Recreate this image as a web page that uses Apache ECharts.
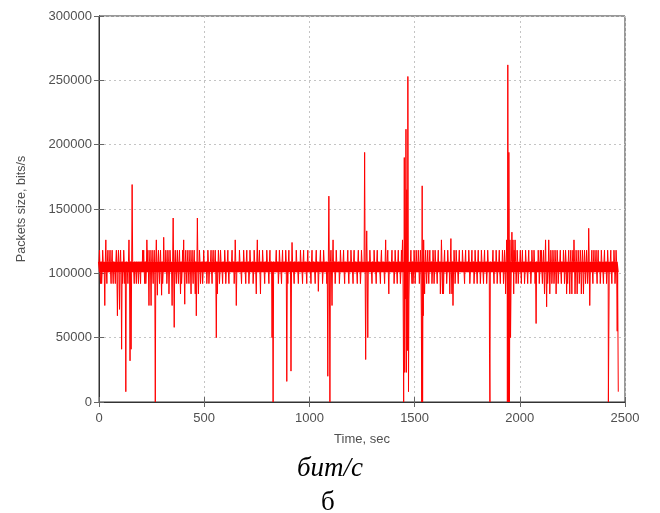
<!DOCTYPE html>
<html>
<head>
<meta charset="utf-8">
<script src="https://cdn.jsdelivr.net/npm/echarts@6/dist/echarts.min.js"></script>
<style>
html,body{margin:0;padding:0;background:#fff;}
#chart{width:660px;height:513px;}
</style>
</head>
<body>
<div id="chart"></div>
<script>
// Sampling step of the dense band, seconds
const timeStep = 5;
// Dense band values (thousands of bits/s), one value per 5 s, rows of 100 s
const band00 = [109,101,109,101,109,101,109,101,109,101,109,101,109,101,109,101,109,101,109,101];
const band01 = [109,101,109,101,109,101,109,101,109,101,109,101,109,101,109,101,109,101,109,101];
const band02 = [109,101,109,101,109,101,109,101,109,101,109,101,109,101,109,101,109,101,109,101];
const band03 = [109,101,109,101,109,101,109,101,109,101,109,101,109,101,109,101,109,101,109,101];
const band04 = [109,101,109,101,109,101,109,101,109,101,109,101,109,101,109,101,109,101,109,101];
const band05 = [109,101,109,101,109,101,109,101,109,101,109,101,109,101,109,101,109,101,109,101];
const band06 = [109,101,109,101,109,101,109,101,109,101,109,101,109,101,109,101,109,101,109,101];
const band07 = [109,101,109,101,109,101,109,101,109,101,109,101,109,101,109,101,109,101,109,101];
const band08 = [109,101,109,101,109,101,109,101,109,101,109,101,109,101,109,101,109,101,109,101];
const band09 = [109,101,109,101,109,101,109,101,109,101,109,101,109,101,109,101,109,101,109,101];
const band10 = [109,101,109,101,109,101,109,101,109,101,109,101,109,101,109,101,109,101,109,101];
const band11 = [109,101,109,101,109,101,109,101,109,101,109,101,109,101,109,101,109,101,109,101];
const band12 = [109,101,109,101,109,101,109,101,109,101,109,101,109,101,109,101,109,101,109,101];
const band13 = [109,101,109,101,109,101,109,101,109,101,109,101,109,101,109,101,109,101,109,101];
const band14 = [109,101,109,101,109,101,109,101,109,101,109,101,109,101,109,101,109,101,109,101];
const band15 = [109,101,109,101,109,101,109,101,109,101,109,101,109,101,109,101,109,101,109,101];
const band16 = [109,101,109,101,109,101,109,101,109,101,109,101,109,101,109,101,109,101,109,101];
const band17 = [109,101,109,101,109,101,109,101,109,101,109,101,109,101,109,101,109,101,109,101];
const band18 = [109,101,109,101,109,101,109,101,109,101,109,101,109,101,109,101,109,101,109,101];
const band19 = [109,101,109,101,109,101,109,101,109,101,109,101,109,101,109,101,109,101,109,101];
const band20 = [109,101,109,101,109,101,109,101,109,101,109,101,109,101,109,101,109,101,109,101];
const band21 = [109,101,109,101,109,101,109,101,109,101,109,101,109,101,109,101,109,101,109,101];
const band22 = [109,101,109,101,109,101,109,101,109,101,109,101,109,101,109,101,109,101,109,101];
const band23 = [109,101,109,101,109,101,109,101,109,101,109,101,109,101,109,101,109,101,109,101];
const band24 = [109,101,109,101,109,101,109,101,109,101,109,101,109,101];

// Single-second excursions [time s, thousands of bits/s]
const spikesA = [[2.5,118],[7.5,92],[12.5,92],[17.5,118],[27.5,75],[32.5,126],[37.5,92],[42.5,118],[52.5,118],[57.5,92],
  [62.5,118],[67.5,92],[77.5,92],[82.5,118],[87.5,67],[92.5,118],[97.5,72],[102.5,118],[107.5,41],[112.5,92],
  [117.5,118],[122.5,92],[127.5,8],[137.5,92],[142.5,126],[147.5,32],[152.5,41],[157.5,169],[167.5,92],[177.5,92],
  [187.5,92],[197.5,92],[207.5,118],[212.5,118],[217.5,92],[222.5,92],[227.5,126],[232.5,118],[237.5,75],[242.5,118],
  [247.5,75],[252.5,118],[257.5,92],[262.5,118],[267.5,0],[272.5,126],[277.5,83],[282.5,118],[287.5,92],[292.5,118],
  [297.5,83],[302.5,92],[307.5,128],[317.5,118],[322.5,92],[327.5,118],[332.5,84],[337.5,118],[347.5,75],[352.5,143],
  [357.5,58],[362.5,118],[367.5,92],[372.5,118],[377.5,92],[382.5,118],[387.5,84],[392.5,92],[397.5,118],[402.5,126],
  [407.5,76],[412.5,118],[417.5,92],[422.5,118],[427.5,92],[432.5,118],[437.5,84],[442.5,118],[447.5,92],[452.5,118],
  [457.5,84],[462.5,67],[467.5,143],[472.5,84],[477.5,118],[482.5,92],[492.5,92],[497.5,118],[512.5,92],[517.5,118],
  [522.5,92],[532.5,118],[537.5,92],[542.5,118],[552.5,118],[557.5,50],[562.5,84],[567.5,118],[572.5,92],[577.5,118],
  [587.5,92],[597.5,118],[602.5,92],[612.5,118],[617.5,92]];
const spikesB = [[632.5,118],[642.5,92],[647.5,126],[652.5,75],[667.5,118],[677.5,92],[687.5,118],[697.5,92],[702.5,118],
  [712.5,92],[717.5,118],[732.5,92],[737.5,118],[747.5,84],[752.5,126],[762.5,118],[767.5,84],[777.5,118],[787.5,92],
  [797.5,118],[807.5,92],[812.5,118],[822.5,50],[827.5,0],[842.5,118],[852.5,92],[857.5,118],[867.5,92],[872.5,118],
  [887.5,118],[892.5,16],[897.5,92],[902.5,118],[912.5,24],[917.5,124],[927.5,92],[937.5,118],[947.5,92],[957.5,118],
  [967.5,92],[972.5,118],[987.5,92],[992.5,118],[1007.5,92],[1012.5,118],[1027.5,92],[1032.5,118],[1042.5,86],[1052.5,118],
  [1062.5,92],[1067.5,118],[1082.5,92],[1087.5,20],[1092.5,160],[1097.5,0],[1102.5,118],[1107.5,75],[1112.5,126],[1122.5,92],
  [1127.5,118],[1142.5,92],[1147.5,118],[1162.5,118],[1167.5,92],[1182.5,118],[1187.5,92],[1197.5,118],[1207.5,92],[1212.5,118],
  [1227.5,92],[1232.5,118],[1242.5,92],[1247.5,118]];
const spikesC = [[1262.5,194],[1267.5,33],[1272.5,133],[1277.5,50],[1287.5,118],[1297.5,92],[1307.5,118],[1317.5,92],
  [1322.5,118],[1337.5,92],[1342.5,118],[1357.5,92],[1362.5,126],[1372.5,118],[1377.5,84],[1392.5,118],[1402.5,92],
  [1407.5,118],[1417.5,92],[1422.5,118],[1432.5,92],[1437.5,118],[1442.5,126],[1448,0],[1451,190],[1453,23],[1456,80],
  [1459,212],[1461,23],[1463,165],[1466,40],[1468,253],[1471,8],[1473,80],[1482.5,118],[1487.5,92],[1492.5,92],[1497.5,118]];
const spikesD = [[1502.5,92],[1507.5,118],[1517.5,118],[1522.5,92],[1527.5,118],[1532,67],[1534,0],[1536,168],[1538,0],
  [1541,67],[1543,126],[1547.5,84],[1552.5,118],[1557.5,92],[1562.5,118],[1567.5,92],[1572.5,118],[1582.5,92],[1587.5,118],
  [1592.5,92],[1597.5,118],[1607.5,92],[1612.5,118],[1622.5,84],[1627.5,126],[1632.5,84],[1637.5,84],[1642.5,118],[1652.5,92],
  [1657.5,118],[1667.5,84],[1672.5,127],[1677.5,84],[1682.5,75],[1687.5,118],[1692.5,92],[1697.5,118]];
const spikesE = [[1707.5,92],[1712.5,118],[1727.5,118],[1737.5,92],[1742.5,118],[1757.5,118],[1762.5,92],[1772.5,118],
  [1782.5,92],[1787.5,118],[1797.5,92],[1802.5,118],[1812.5,92],[1817.5,118],[1827.5,92],[1832.5,118],[1842.5,92],
  [1847.5,118],[1856,38],[1858,0],[1872.5,118],[1877.5,92],[1887.5,118],[1892.5,92]];
const spikesF = [[1902.5,118],[1907.5,92],[1917.5,118],[1922.5,92],[1927.5,118],[1932.5,84],[1937.5,126],[1941,0],[1943,262],
  [1946,0],[1948,194],[1951,0],[1953,126],[1956,50],[1958,84],[1962.5,132],[1967.5,126],[1971,84],[1973,118],[1977.5,126],
  [1982.5,92],[1987.5,118],[1992.5,92],[2002.5,118],[2007.5,92],[2012.5,118],[2022.5,92],[2027.5,118],[2037.5,92],[2042.5,118],
  [2052.5,92],[2057.5,118],[2067.5,118],[2072.5,92],[2077.5,61],[2087.5,118],[2092.5,92],[2097.5,118]];
const spikesG = [[2102.5,118],[2107.5,92],[2112.5,118],[2117.5,84],[2122.5,126],[2127.5,74],[2132.5,92],[2137.5,126],
  [2142.5,84],[2147.5,118],[2152.5,92],[2157.5,118],[2162.5,92],[2167.5,118],[2172.5,84],[2177.5,118],[2182.5,92],
  [2192.5,118],[2197.5,92],[2207.5,118],[2212.5,92],[2217.5,118],[2222.5,84],[2227.5,92],[2232.5,118],[2237.5,84],
  [2242.5,118],[2247.5,84],[2252.5,118],[2257.5,126],[2262.5,84],[2267.5,118],[2272.5,84],[2277.5,118],[2282.5,92],
  [2287.5,118],[2292.5,84],[2297.5,118],[2302.5,84],[2307.5,118],[2312.5,92],[2317.5,118],[2322.5,92],[2327.5,135],
  [2332.5,75],[2342.5,118],[2347.5,92],[2352.5,118],[2362.5,118],[2367.5,92],[2372.5,118],[2382.5,92],[2387.5,118],
  [2397.5,92],[2402.5,118],[2412.5,92],[2417.5,118],[2421,0],[2432.5,118],[2437.5,92],[2447.5,118],[2452.5,92],
  [2457.5,118],[2463,55],[2468,8]];

const xTicks = [0, 500, 1000, 1500, 2000, 2500];
const yTicks = [0, 50000, 100000, 150000, 200000, 250000, 300000];
const xName = 'Time, sec';
const yName = 'Packets size, bits/s';
const caption1 = 'бит/с';
const caption2 = 'б';

const bandVals = [].concat(band00,band01,band02,band03,band04,band05,band06,band07,band08,band09,band10,band11,
  band12,band13,band14,band15,band16,band17,band18,band19,band20,band21,band22,band23,band24);
const bandPts = bandVals.map((v, i) => [i * timeStep, v]);
const spikePts = [].concat(spikesA, spikesB, spikesC, spikesD, spikesE, spikesF, spikesG);
const seriesData = bandPts.concat(spikePts)
  .sort((a, b) => a[0] - b[0])
  .map(p => [p[0], p[1] * 1000]);
const bandData = bandPts.map(p => [p[0], p[1] * 1000]);

const chart = echarts.init(document.getElementById('chart'), null, {renderer: 'canvas'});
const labelFont = {color: '#505050', fontSize: 13, fontFamily: 'Liberation Sans, Arial, sans-serif'};
const gridLine = {show: true, lineStyle: {color: '#c4c4c4', type: [2, 3], width: 1}};
const frameLine = {show: true, lineStyle: {color: '#333', width: 1}};
const plain = v => String(v);
chart.setOption({
  animation: false,
  backgroundColor: '#fff',
  grid: {left: 99, top: 16, right: 35, bottom: 111, show: true, borderColor: '#333', borderWidth: 1, containLabel: false},
  xAxis: [{
    type: 'value', min: xTicks[0], max: xTicks[xTicks.length - 1], interval: 500,
    position: 'bottom',
    axisLine: frameLine,
    axisTick: {show: true, inside: true, length: 5, lineStyle: {color: '#666'}},
    axisLabel: Object.assign({margin: 10, formatter: plain}, labelFont),
    splitLine: gridLine,
    name: xName, nameLocation: 'middle', nameGap: 31,
    nameTextStyle: labelFont
  }, {
    type: 'value', min: xTicks[0], max: xTicks[xTicks.length - 1], interval: 500,
    position: 'top',
    axisLine: frameLine,
    axisTick: {show: true, inside: true, length: 5, lineStyle: {color: '#666'}},
    axisLabel: {show: false},
    splitLine: {show: false}
  }],
  yAxis: [{
    type: 'value', min: yTicks[0], max: yTicks[yTicks.length - 1], interval: 50000,
    position: 'left',
    axisLine: frameLine,
    axisTick: {show: true, inside: true, length: 5, lineStyle: {color: '#666'}},
    axisLabel: Object.assign({margin: 7, formatter: plain}, labelFont),
    splitLine: gridLine,
    name: yName, nameLocation: 'middle', nameGap: 71, nameRotate: 90,
    nameTextStyle: Object.assign({}, labelFont, {fontSize: 12.5})
  }, {
    type: 'value', min: yTicks[0], max: yTicks[yTicks.length - 1], interval: 50000,
    position: 'right',
    axisLine: frameLine,
    axisTick: {show: true, inside: true, length: 5, lineStyle: {color: '#666'}},
    axisLabel: {show: false},
    splitLine: {show: false}
  }],
  series: [{
    type: 'line',
    name: 'band',
    xAxisIndex: 0, yAxisIndex: 0,
    data: bandData,
    showSymbol: false,
    symbol: 'none',
    sampling: null,
    lineStyle: {color: '#ff0000', width: 2.2},
    itemStyle: {color: '#ff0000'},
    z: 3
  }, {
    type: 'line',
    name: 'traffic',
    xAxisIndex: 0, yAxisIndex: 0,
    data: seriesData,
    showSymbol: false,
    symbol: 'none',
    sampling: null,
    lineStyle: {color: '#ff0000', width: 1},
    itemStyle: {color: '#ff0000'},
    z: 4
  }],
  graphic: [{
    type: 'text', left: 'center', top: 455,
    style: {text: caption1, font: 'italic 27px "Liberation Serif", "Times New Roman", serif', fill: '#000'}
  }, {
    type: 'text', left: 321, top: 489,
    style: {text: caption2, font: '27px "Liberation Serif", "Times New Roman", serif', fill: '#000'}
  }]
});
</script>
</body>
</html>
